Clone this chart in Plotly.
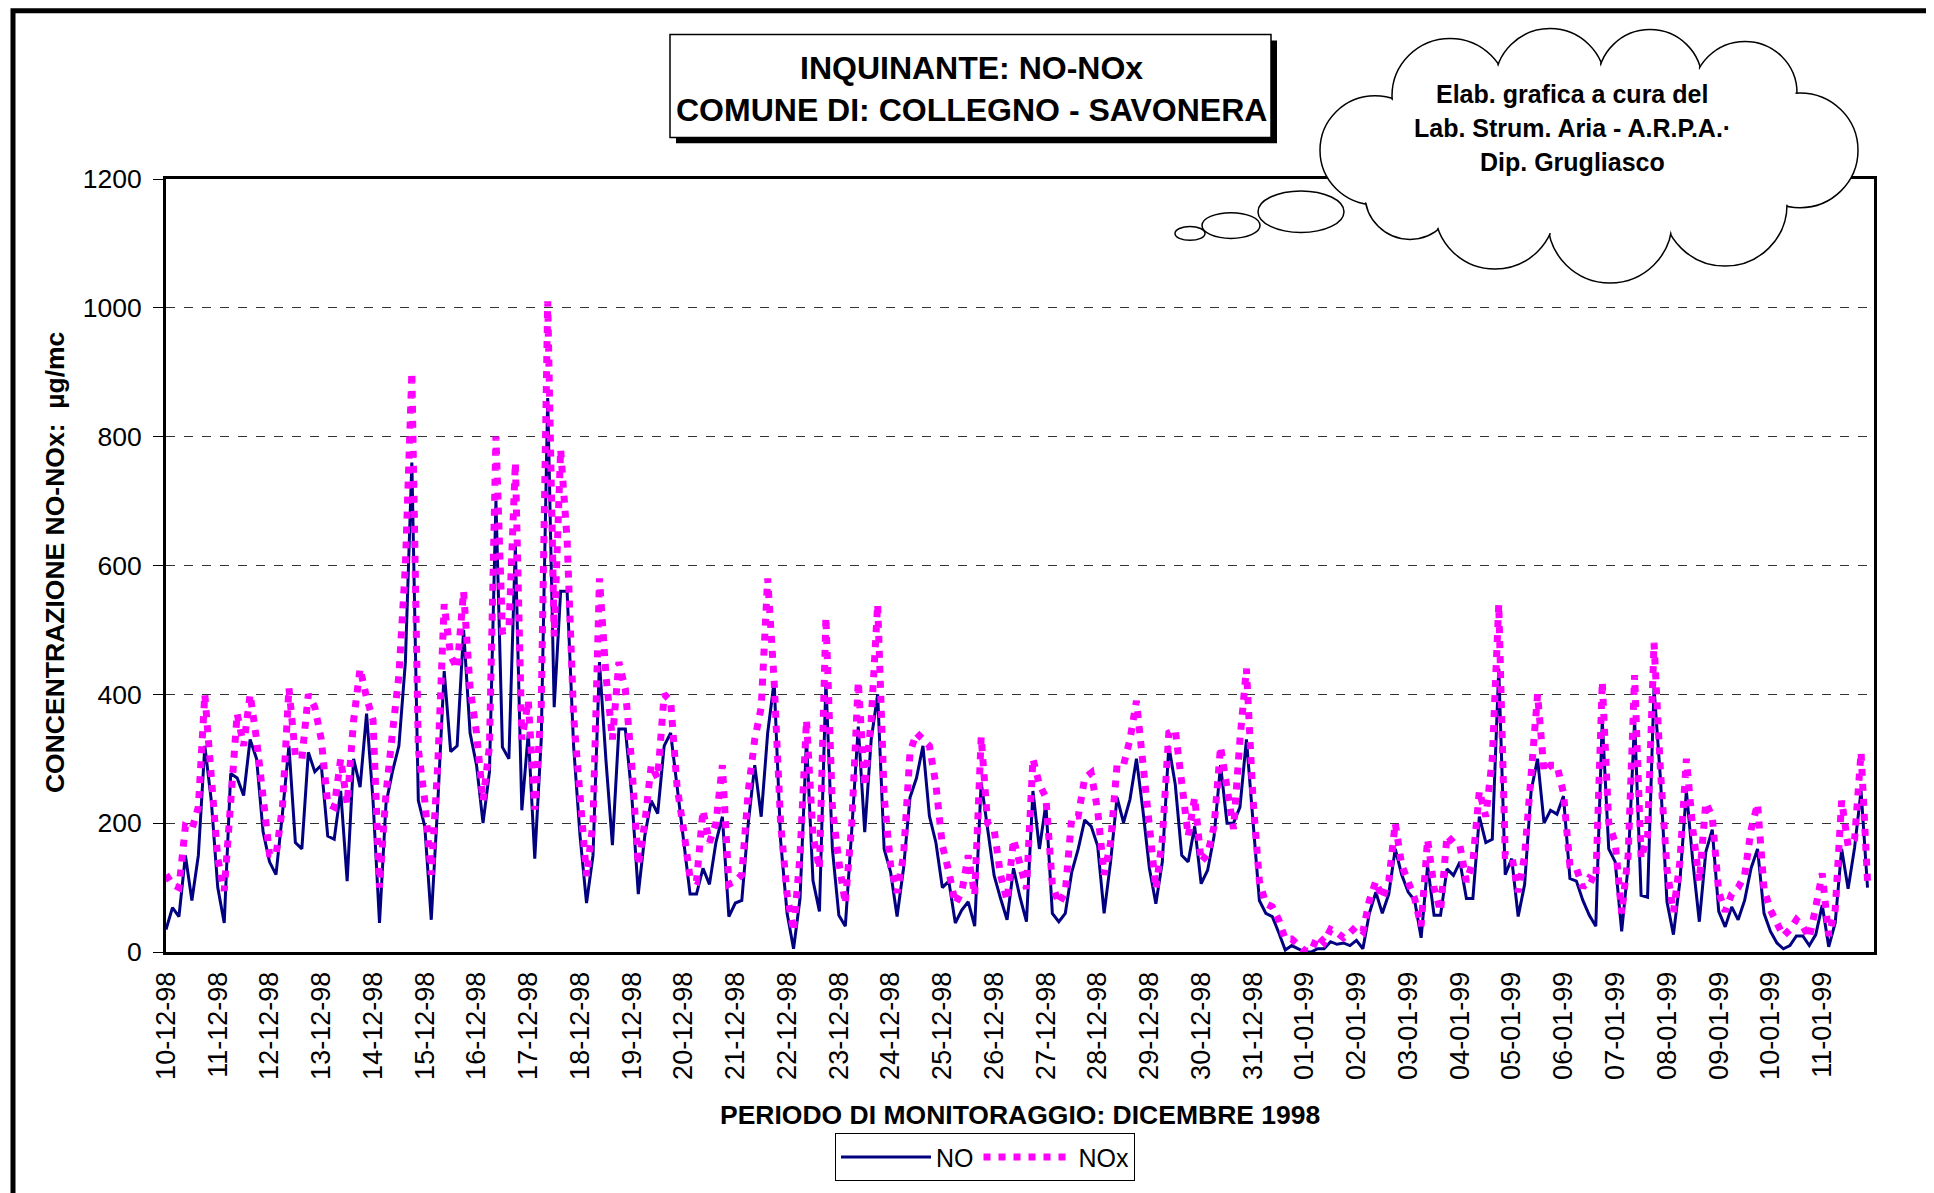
import pandas as pd
import plotly.graph_objects as go

START = "1998-12-10"
STEP_HOURS = 3
N_DAYS = 33

# concentrazioni ogni 3 ore (00, 03, ..., 21), una riga per giorno
NO = [
    35, 69, 55, 150, 80, 150, 320, 235,  # 10-12
    100, 45, 277, 270, 243, 330, 300, 187,  # 11-12
    140, 120, 215, 320, 170, 160, 310, 280,  # 12-12
    290, 180, 175, 250, 110, 300, 256, 370,  # 13-12
    235, 45, 230, 280, 320, 450, 760, 235,  # 14-12
    195, 50, 230, 436, 311, 320, 500, 340,  # 15-12
    290, 200, 280, 700, 318, 300, 630, 220,  # 16-12
    340, 145, 330, 860, 380, 560, 560, 320,  # 17-12
    180, 76, 150, 450, 298, 166, 346, 346,  # 18-12
    242, 90, 180, 235, 215, 320, 340, 256,  # 19-12
    175, 90, 90, 130, 105, 170, 210, 55,  # 20-12
    76, 80, 200, 290, 210, 340, 420, 173,  # 21-12
    60, 5, 83, 330, 111, 63, 420, 160,  # 22-12
    57, 40, 190, 350, 186, 330, 400, 160,  # 23-12
    124, 55, 130, 240, 270, 320, 211, 170,  # 24-12
    100, 110, 45, 65, 78, 40, 263, 190,  # 25-12
    119, 83, 50, 130, 85, 47, 250, 160,  # 26-12
    230, 60, 47, 60, 124, 160, 205, 195,  # 27-12
    165, 60, 140, 240, 201, 237, 300, 220,  # 28-12
    130, 75, 140, 320, 260, 150, 140, 195,  # 29-12
    106, 127, 180, 290, 200, 200, 225, 330,  # 30-12
    205, 80, 60, 55, 30, 3, 10, 5,  # 31-12
    0, 0, 5, 5, 16, 12, 14, 10,  # 01-01
    18, 5, 60, 93, 60, 90, 160, 120,  # 02-01
    93, 80, 22, 134, 57, 57, 129, 119,  # 03-01
    140, 83, 83, 210, 170, 175, 440, 120,  # 04-01
    145, 55, 105, 250, 300, 200, 220, 214,  # 05-01
    242, 114, 110, 80, 57, 40, 360, 160,  # 06-01
    140, 32, 134, 360, 88, 85, 410, 268,  # 07-01
    78, 27, 110, 250, 140, 47, 155, 190,  # 08-01
    63, 39, 70, 50, 80, 130, 160, 60,  # 09-01
    32, 14, 5, 10, 25, 25, 10, 27,  # 10-01
    73, 8, 45, 160, 98, 162, 250, 100,  # 11-01
]

NOX = [
    120, 105, 100, 195, 190, 225, 400, 265,  # 10-12
    145, 95, 250, 370, 320, 400, 330, 235,  # 11-12
    152, 150, 225, 410, 305, 300, 400, 380,  # 12-12
    330, 230, 225, 300, 230, 360, 440, 395,  # 13-12
    360, 100, 245, 340, 430, 600, 900, 315,  # 14-12
    235, 120, 290, 540, 460, 440, 560, 410,  # 15-12
    340, 235, 320, 800, 498, 500, 760, 330,  # 16-12
    390, 221, 380, 1010, 490, 780, 640, 367,  # 17-12
    240, 118, 200, 580, 430, 330, 450, 408,  # 18-12
    290, 135, 200, 290, 270, 400, 390, 256,  # 19-12
    190, 115, 110, 220, 170, 200, 290, 105,  # 20-12
    110, 120, 250, 330, 380, 580, 420, 200,  # 21-12
    90, 32, 150, 360, 181, 129, 520, 225,  # 22-12
    140, 75, 200, 420, 257, 360, 540, 242,  # 23-12
    134, 92, 150, 310, 340, 330, 320, 260,  # 24-12
    165, 125, 75, 93, 150, 88, 334, 200,  # 25-12
    190, 119, 80, 175, 140, 98, 300, 260,  # 26-12
    240, 105, 75, 93, 210, 211, 270, 278,  # 27-12
    220, 120, 170, 290, 290, 330, 390, 288,  # 28-12
    195, 98, 175, 340, 345, 260, 180, 240,  # 29-12
    140, 152, 195, 319, 250, 191, 330, 440,  # 30-12
    240, 110, 75, 70, 50, 20, 20, 12,  # 31-12
    2, 1, 25, 15, 35, 30, 22, 30,  # 01-01
    40, 32, 80, 110, 83, 110, 200, 135,  # 02-01
    106, 83, 40, 175, 100, 63, 181, 170,  # 03-01
    165, 109, 140, 250, 210, 300, 540, 150,  # 04-01
    150, 93, 150, 270, 400, 280, 290, 290,  # 05-01
    247, 134, 130, 100, 115, 110, 420, 200,  # 06-01
    170, 60, 150, 430, 145, 180, 480, 280,  # 07-01
    129, 62, 140, 300, 190, 110, 232, 210,  # 08-01
    93, 63, 90, 100, 119, 190, 230, 98,  # 09-01
    65, 45, 25, 35, 50, 40, 22, 70,  # 10-01
    122, 25, 65, 235, 165, 175, 310, 110,  # 11-01
]

Y_TICKS = [0, 200, 400, 600, 800, 1000, 1200]

TITLE_LINES = ["INQUINANTE: NO-NOx", "COMUNE DI: COLLEGNO - SAVONERA"]
CLOUD_LINES = ["Elab. grafica a cura del", "Lab. Strum. Aria - A.R.P.A.·", "Dip. Grugliasco"]

FONT = "Liberation Sans, Arial, sans-serif"
PAGE_PAD = 8  # body margin of the html page
W_FIG, H_FIG = 1934 - PAGE_PAD, 1193 - PAGE_PAD
# plot area in page pixels
L, T, W, H = 166, 179, 1708, 781


def fx(px):
    return (px - L) / W


def fy(py):
    return (T + H - py) / H


def ellipse(cx, cy, rx, ry, fill="white", line=None, width=1.5):
    return dict(
        type="circle", xref="paper", yref="paper", layer="above",
        x0=fx(cx - rx), x1=fx(cx + rx), y0=fy(cy + ry), y1=fy(cy - ry),
        fillcolor=fill,
        line=dict(color=line or fill, width=width if line else 0),
    )


def rect(x0, y0, x1, y1, fill="white", line=None, width=1.5):
    return dict(
        type="rect", xref="paper", yref="paper", layer="above",
        x0=fx(x0), x1=fx(x1), y0=fy(y1), y1=fy(y0),
        fillcolor=fill,
        line=dict(color=line or fill, width=width if line else 0),
    )


def cloud_shapes():
    lobes = [
        (1375, 150, 55), (1410, 195, 45), (1450, 95, 58), (1550, 82, 55),
        (1650, 80, 52), (1745, 92, 52), (1800, 150, 58), (1725, 205, 62),
        (1610, 222, 62), (1495, 210, 60),
    ]
    shapes = []
    for X, Y, rx, ry in [(1190, 234, 15, 7), (1231, 226, 29, 13), (1301, 212, 43, 21)]:
        shapes.append(ellipse(X, Y, rx, ry, line="black"))
    for X, Y, r in lobes:
        shapes.append(ellipse(X, Y, r, r, line="black"))
    for X, Y, r in lobes:
        shapes.append(ellipse(X, Y, r - 1.5, r - 1.5))
    shapes.append(ellipse(1590, 155, 200, 80))
    return shapes


def main():
    times = pd.date_range(START, periods=len(NO), freq=f"{STEP_HOURS}h")
    days = pd.date_range(START, periods=N_DAYS, freq="D")

    fig = go.Figure()
    fig.add_trace(go.Scatter(
        x=times, y=NO, name="NO", mode="lines",
        line=dict(color="#000080", width=3),
    ))
    fig.add_trace(go.Scatter(
        x=times, y=NOX, name="NOx", mode="lines",
        line=dict(color="#FF00FF", width=7, dash="7px,8px"),
    ))

    shapes = [rect(13, 9, 1930, 1215, fill="rgba(0,0,0,0)", line="black", width=5)]
    shapes.append(rect(676, 39, 1277, 143, fill="black"))
    shapes.append(rect(670, 33, 1271, 137, line="black", width=1.5))
    shapes += cloud_shapes()

    annotations = [
        dict(text=TITLE_LINES[0], x=fx(971), y=fy(67)),
        dict(text=TITLE_LINES[1], x=fx(971), y=fy(109)),
    ]
    for i, line in enumerate(CLOUD_LINES):
        annotations.append(dict(text=line, x=fx(1572), y=fy(93 + 34.5 * i),
                                font=dict(family=FONT, size=25, color="black")))
    annotations.append(dict(
        text="CONCENTRAZIONE NO-NOx:  µg/mc", x=fx(55), y=fy(567), textangle=-90,
        font=dict(family=FONT, size=26.5, color="black"),
    ))
    annotations.append(dict(
        text="PERIODO DI MONITORAGGIO: DICEMBRE 1998", x=fx(1020), y=fy(1125),
        font=dict(family=FONT, size=26.5, color="black"),
    ))
    for a in annotations:
        a.setdefault("font", dict(family=FONT, size=32, color="black"))
        a["text"] = "<b>" + a["text"] + "</b>"
        a.update(xref="paper", yref="paper", showarrow=False,
                 xanchor="center", yanchor="middle")

    fig.update_layout(
        width=W_FIG, height=H_FIG,
        margin=dict(l=L - PAGE_PAD, r=W_FIG - (L - PAGE_PAD) - W,
                    t=T - PAGE_PAD, b=H_FIG - (T - PAGE_PAD) - H),
        paper_bgcolor="white", plot_bgcolor="white",
        font=dict(family=FONT, color="black"),
        showlegend=True,
        legend=dict(
            orientation="h", x=fx(985), y=fy(1143), xanchor="center", yanchor="top",
            bordercolor="black", borderwidth=1, bgcolor="white",
            font=dict(family=FONT, size=25, color="black"),
            itemwidth=90, tracegroupgap=0,
        ),
        shapes=shapes,
        annotations=annotations,
    )
    fig.update_xaxes(
        type="date",
        range=[days[0], days[-1] + pd.Timedelta(days=1)],
        tickvals=list(days), tickformat="%d-%m-%y", tickangle=-90,
        tickfont=dict(family=FONT, size=27, color="black"),
        showgrid=False, showline=True, linecolor="black", linewidth=3, mirror=True,
        ticks="", zeroline=False, ticklabelstandoff=6,
    )
    fig.update_yaxes(
        range=[0, 1200], tickvals=Y_TICKS,
        tickfont=dict(family=FONT, size=26.5, color="black"),
        showgrid=True, gridcolor="#333333", gridwidth=1, griddash="dash",
        showline=True, linecolor="black", linewidth=3, mirror=True,
        ticks="outside", ticklen=10, tickcolor="black", zeroline=False,
        ticklabelstandoff=6,
    )

    fig.write_html("out.html")


if __name__ == "__main__":
    main()
